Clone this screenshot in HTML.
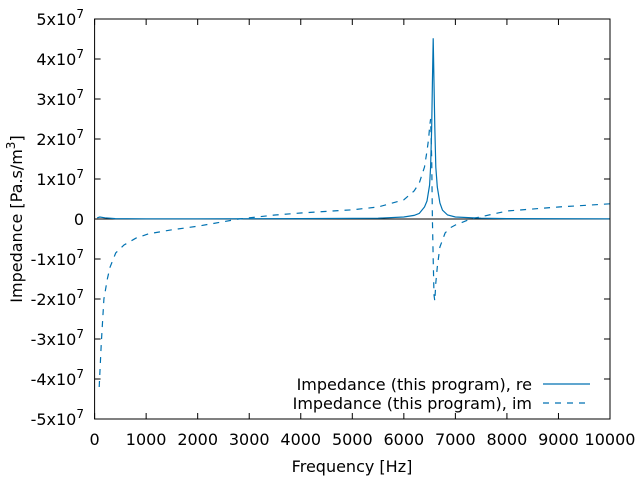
<!DOCTYPE html>
<html><head><meta charset="utf-8"><style>
html,body{margin:0;padding:0;background:#fff;}
svg{display:block;font-family:"DejaVu Sans","Liberation Sans",sans-serif;}
</style></head><body>
<svg id="chart" width="640" height="480"></svg>
<script>
const xTicks=[0,1000,2000,3000,4000,5000,6000,7000,8000,9000,10000];
const yTicks=[-5,-4,-3,-2,-1,0,1,2,3,4,5];
const reFreq=[50,100,200,400,1000,2000,4000,5500,6000,6200,6300,6400,6450,6500,6520,6540,6555,6570,6585,6600,6620,6650,6700,6750,6850,7000,7500,8000,10000];
const reVals=[0.03,0.05,0.03,0.01,0.005,0.005,0.01,0.02,0.05,0.09,0.14,0.3,0.45,0.85,1.3,2.3,3.4,4.52,3.4,2.3,1.3,0.8,0.4,0.22,0.1,0.05,0.02,0.01,0.005];
const imFreq=[90,130,180,250,300,410,570,800,1050,1500,2000,2800,3500,4000,5000,5500,6000,6200,6300,6400,6450,6480,6500,6520,6540,6555,6570,6585,6600,6620,6650,6700,6800,6900,7000,7300,8000,9000,10000];
const imVals=[-4.2,-3.1,-2.0,-1.48,-1.2,-0.85,-0.65,-0.48,-0.37,-0.27,-0.18,0,0.1,0.15,0.23,0.3,0.48,0.7,0.9,1.3,1.7,2.0,2.3,2.5,1.5,0,-1.0,-1.9,-2.05,-1.6,-1.2,-0.7,-0.35,-0.22,-0.15,0,0.2,0.3,0.38];
const L=94.6,R=610,T=19,B=419;
const sx=f=>L+(f-0)/10000*(R-L);
const sy=v=>B-(v+5)/10*(B-T);
const svg=document.getElementById('chart');
const NS='http://www.w3.org/2000/svg';
function mk(tag,attrs,parent){const e=document.createElementNS(NS,tag);for(const k in attrs)e.setAttribute(k,attrs[k]);(parent||svg).appendChild(e);return e;}
let z=mk('line',{x1:L,x2:R,y1:sy(0),y2:sy(0),stroke:'#000','stroke-width':1});


xTicks.forEach(t=>{const x=sx(t);
 let a=mk('line',{x1:x,x2:x,y1:B,y2:B-6,stroke:'#000'});
 
 
 let b=mk('line',{x1:x,x2:x,y1:T,y2:T+6,stroke:'#000'});
 
 
 let tx=mk('text',{x:x,y:445,'text-anchor':'middle','font-size':16});tx.textContent=t;
 
 
});
yTicks.forEach(t=>{const y=sy(t);
 let a=mk('line',{x1:L,x2:L+6,y1:y,y2:y,stroke:'#000'});
 
 
 let b=mk('line',{x1:R,x2:R-6,y1:y,y2:y,stroke:'#000'});
 
 
 let tx=mk('text',{x:84,y:y+6,'text-anchor':'end','font-size':16});
 
 
 if(t===0){tx.textContent='0';}else{
  tx.textContent=t+'x10';
  let s=mk('tspan',{dy:-7,'font-size':12},tx);s.textContent='7';
 }
});
function path(fr,vals){return fr.map((f,i)=>(i?'L':'M')+sx(f).toFixed(1)+','+sy(vals[i]).toFixed(1)).join(' ');}
let pr=mk('path',{d:path(reFreq,reVals),fill:'none',stroke:'#0072b2','stroke-width':1.2});


let pi=mk('path',{d:path(imFreq,imVals),fill:'none',stroke:'#0072b2','stroke-width':1.2,'stroke-dasharray':'6,6'});


let fr=mk('rect',{x:L,y:T,width:R-L,height:B-T,fill:'none',stroke:'#000','stroke-width':1});


</script>
<svg style="position:absolute;left:0;top:0" width="640" height="480">
<text x="352" y="472" text-anchor="middle" font-size="16">Frequency [Hz]</text>
<text transform="translate(22,219) rotate(-90)" text-anchor="middle" font-size="16">Impedance [Pa.s/m<tspan dy="-7" font-size="12">3</tspan><tspan dy="7">]</tspan></text>
<text x="532" y="390" text-anchor="end" font-size="16">Impedance (this program), re</text>
<line x1="543" x2="590" y1="384" y2="384" stroke="#0072b2" stroke-width="1.2"/>
<text x="532" y="409" text-anchor="end" font-size="16">Impedance (this program), im</text>
<line x1="543" x2="590" y1="403" y2="403" stroke="#0072b2" stroke-width="1.2" stroke-dasharray="6,6"/>
</svg>
</body></html>
